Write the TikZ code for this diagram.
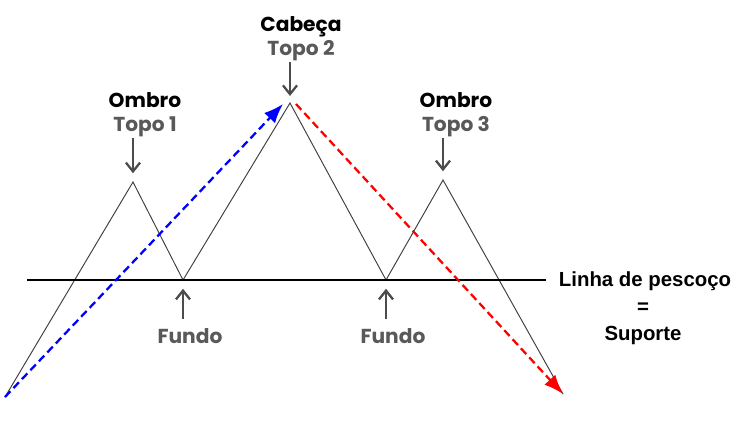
\documentclass[tikz,border=0pt]{standalone}
\usepackage{fontspec}
\setmainfont{Liberation Sans}
\newfontfamily\geo{Poppins}
\usetikzlibrary{arrows.meta, positioning}

\tikzset{
 pattern/.style={draw=black!75, line width=0.55pt, line join=miter},
 neck/.style={draw=black, line width=1.2pt},
 callout/.style={draw=black!70, line width=1.3pt, -{Straight Barb[length=5pt,width=8pt]}, shorten >=5pt},
 trend/.style={line width=1.3pt, dash pattern=on 4.5pt off 2.5pt, -{Latex[length=11pt,width=8.5pt]}},
 title/.style={font=\geo\bfseries\fontsize{11.5}{13}\selectfont, inner sep=1pt, text height=8.5pt, text depth=2.5pt},
 sub/.style={title, text=black!65},
 lbl/.style={font=\bfseries\fontsize{11.6}{13}\selectfont, inner sep=1pt}
}

\begin{document}
\begin{tikzpicture}[x=0.02cm, y=-0.02cm]
\useasboundingbox (0,0) rectangle (743,424);
% price path
\coordinate (s) at (5,397);
\coordinate (t1) at (133,182);
\coordinate (b1) at (183,280);
\coordinate (t2) at (290,103);
\coordinate (b2) at (386,280);
\coordinate (t3) at (443,180);
\coordinate (e) at (563,394);
\draw[pattern] (s)--(t1)--(b1)--(t2)--(b2)--(t3)--(e);
% neckline
\coordinate (nl) at (27,280);
\coordinate (nr) at (546,280);
\node[lbl] (linha) at (645,281) {Linha de pescoço};
\node[lbl] (igual) at (643,308) {=};
\node[lbl] (suporte) at (643,335) {Suporte};
\draw[neck] (nl) -- (nr);
% trends
\coordinate (ta) at (283,104);
\coordinate (tb) at (296,104);
\draw[trend, blue] (s) -- (ta);
\draw[trend, red] (tb) -- (e);
% labels
\node[title] (ombroA) at (145,102) {Ombro};
\node[sub, below=0.6pt of ombroA] (topoA) {Topo 1};
\node[title] (cabeca) at (301,26) {Cabeça};
\node[sub, below=0.6pt of cabeca] (topoB) {Topo 2};
\node[title] (ombroC) at (456,102) {Ombro};
\node[sub, below=0.6pt of ombroC] (topoC) {Topo 3};
\draw[callout] (topoA.south -| t1) -- (t1);
\draw[callout, shorten >=4pt] (topoB.south -| t2) -- (t2);
\draw[callout] (topoC.south -| t3) -- (t3);
\node[sub] (fundoA) at (190,338) {Fundo};
\node[sub] (fundoB) at (393,338) {Fundo};
\draw[callout, shorten <=4pt] (fundoA.north -| b1) -- (b1);
\draw[callout, shorten <=4pt] (fundoB.north -| b2) -- (b2);
\end{tikzpicture}
\end{document}
